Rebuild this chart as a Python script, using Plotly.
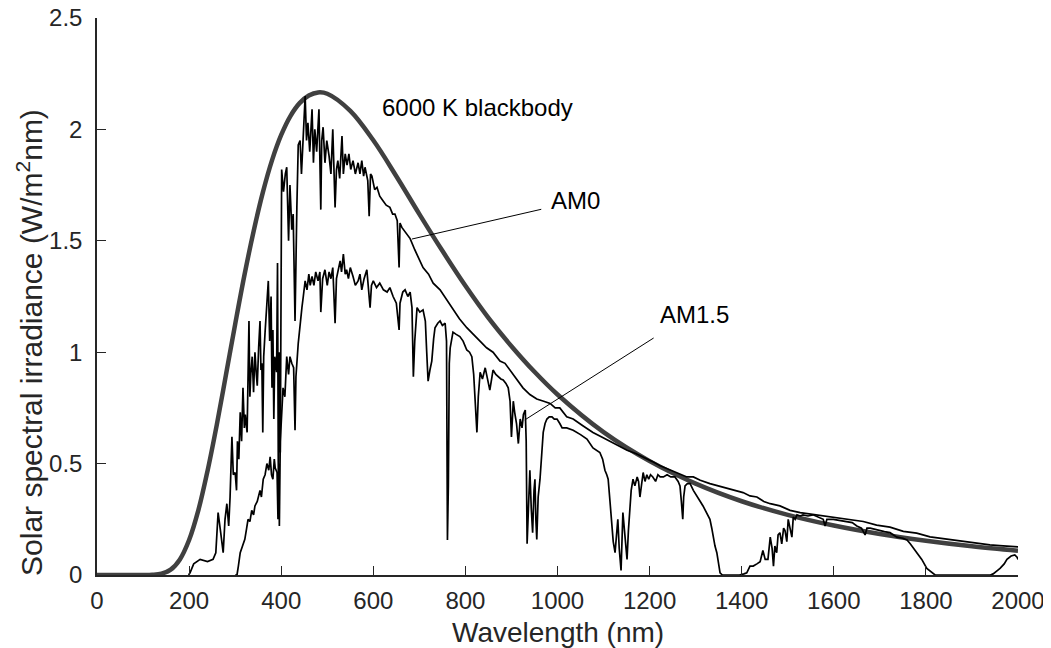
import plotly.graph_objects as go

# 6000 K blackbody (scaled)
bb_wl = [0, 50, 100, 120, 140, 160, 180, 200, 220, 240, 260, 280, 300, 320, 340,
         360, 380, 400, 420, 440, 460, 480, 500, 550, 600, 650, 700, 750, 800,
         850, 900, 950, 1000, 1100, 1200, 1300, 1400, 1500, 1600, 1700, 1800,
         1900, 2000]
bb_val = [0, 0, 0, 0.001, 0.006, 0.024, 0.070, 0.157, 0.290, 0.467, 0.673, 0.898,
          1.125, 1.344, 1.542, 1.716, 1.861, 1.975, 2.060, 2.118, 2.152, 2.166,
          2.160, 2.083, 1.951, 1.790, 1.620, 1.455, 1.298, 1.154, 1.027, 0.912,
          0.810, 0.641, 0.511, 0.410, 0.331, 0.270, 0.222, 0.184, 0.154, 0.129,
          0.109]

# AM0 spectrum
am0_wl = [199, 202, 210, 224, 240, 252, 258, 263, 268, 274, 278, 282, 286, 289, 293,
          296, 300, 303, 305, 308, 311, 314, 317, 320, 322, 326, 330, 332, 334, 337,
          340, 343, 346, 348, 351, 354, 356, 358, 360, 362, 365, 368, 372, 375, 378,
          380, 382, 384, 386, 388, 390, 392, 394, 396, 398, 401, 405,
          409, 412, 416, 419, 423, 426, 430, 432, 434, 437, 441, 444, 447, 450,
          452, 455, 458, 462, 467, 470, 473, 477, 482, 486, 488, 491, 495, 499,
          504, 508, 512, 517, 520, 523, 527, 532, 535, 539, 543, 547, 551, 556,
          561, 567, 571, 575, 579, 582, 588, 591, 594, 597, 603, 608, 614, 621,
          628, 636, 642, 647, 652, 656, 658, 662, 670, 680, 690, 701, 708, 720,
          730, 745, 758, 771, 787, 803, 818, 832, 846, 860, 875, 886, 897, 910,
          925, 940, 955, 970, 984, 995, 1005, 1020, 1034, 1055, 1077, 1095, 1114,
          1130, 1151, 1170, 1186, 1205, 1223, 1240, 1259, 1272, 1281, 1295, 1310,
          1331, 1350, 1368, 1385, 1403, 1418, 1433, 1448, 1462, 1483, 1505, 1527,
          1545, 1563, 1585, 1607, 1635, 1664, 1693, 1722, 1751, 1765, 1780, 1809,
          1830, 1852, 1875, 1896, 1920, 1939, 1960, 1983, 2000]
am0_val = [0.0, 0.01, 0.05, 0.07, 0.06, 0.07, 0.10, 0.28, 0.20, 0.10, 0.25, 0.32, 0.22,
           0.35, 0.62, 0.45, 0.46, 0.38, 0.60, 0.52, 0.73, 0.60, 0.84, 0.66, 0.72, 0.64,
           1.14, 0.80, 0.90, 0.98, 0.82, 1.00, 0.90, 0.85, 1.02, 1.14, 0.92, 0.95,
           0.64, 0.98, 1.09, 1.18, 1.32, 1.05, 1.25, 0.84, 1.10, 0.70, 0.98, 0.95,
           0.91, 1.40, 0.32, 1.00, 0.55, 1.82, 1.72, 1.80, 1.83, 1.50, 1.75, 1.55,
           1.62, 1.14, 1.50, 1.65, 1.93, 1.95, 1.80, 1.92, 2.05, 2.15, 1.95, 2.03,
           1.90, 2.09, 1.85, 2.00, 1.90, 2.09, 1.64, 1.95, 2.01, 1.85, 1.95, 1.88,
           1.80, 2.00, 1.65, 1.82, 1.86, 1.78, 1.97, 1.80, 1.89, 1.84, 1.89, 1.82,
           1.86, 1.80, 1.85, 1.80, 1.86, 1.79, 1.83, 1.77, 1.61, 1.80, 1.79, 1.73,
           1.74, 1.70, 1.68, 1.66, 1.65, 1.62, 1.62, 1.59, 1.38, 1.58, 1.56, 1.54,
           1.51, 1.46, 1.41, 1.38, 1.35, 1.31, 1.28, 1.24, 1.20, 1.15, 1.11, 1.08,
           1.05, 1.02, 1.00, 0.96, 0.95, 0.92, 0.88, 0.84, 0.81, 0.79, 0.78, 0.77,
           0.75, 0.75, 0.71, 0.70, 0.67, 0.64, 0.62, 0.60, 0.58, 0.56, 0.545, 0.53,
           0.51, 0.49, 0.475, 0.46, 0.45, 0.44, 0.44, 0.425, 0.41, 0.40, 0.39, 0.38,
           0.37, 0.355, 0.35, 0.33, 0.32, 0.31, 0.29, 0.28, 0.275, 0.27, 0.262,
           0.256, 0.25, 0.24, 0.224, 0.215, 0.196, 0.192, 0.188, 0.171, 0.165,
           0.157, 0.150, 0.144, 0.139, 0.135, 0.132, 0.130, 0.126]

# AM1.5 spectrum
am15_wl = [300, 304, 307, 311, 316, 321, 325, 328, 332, 336, 340, 343, 348, 354,
           357, 361, 365, 369, 373, 376, 379, 382, 385, 387, 391, 393, 395, 396,
           398, 401, 404, 408, 412, 416, 419, 423, 427, 430, 432, 437, 441, 445,
           448, 452, 456, 460, 463, 467, 471, 475, 480, 484, 486, 490, 495, 500,
           504, 508, 512, 517, 520, 524, 528, 531, 535, 539, 542, 546, 550, 556,
           561, 567, 571, 575, 580, 586, 589, 593, 596, 600, 607, 614, 622, 630,
           636, 643, 650, 656, 658, 664, 669, 675, 680, 684, 687, 690, 695, 701,
           708, 713, 716, 719, 723, 727, 731, 734, 740, 745, 750, 756, 759, 761,
           763, 765, 767, 773, 780, 788, 795, 803, 809, 814, 818, 821, 823, 825,
           828, 832, 837, 843, 848, 853, 857, 860, 866, 871, 877, 882, 888, 893,
           897, 900, 904, 907, 911, 915, 919, 923, 926, 930, 932, 934, 937, 940,
           943, 946, 949, 951, 953, 955, 958, 962, 966, 969, 973, 977, 982, 988,
           993, 999, 1005, 1010, 1020, 1034, 1050, 1064, 1077, 1085, 1092, 1098,
           1103, 1107, 1110, 1114, 1118, 1121, 1125, 1128, 1131, 1134, 1138, 1142,
           1146, 1151, 1154, 1157, 1160, 1164, 1168, 1173, 1176, 1179, 1183, 1186,
           1190, 1194, 1198, 1202, 1207, 1213, 1218, 1223, 1230, 1238, 1246, 1255,
           1262, 1266, 1269, 1272, 1274, 1277, 1282, 1288, 1295, 1303, 1310, 1316,
           1323, 1331, 1335, 1338, 1342, 1346, 1350, 1353, 1358, 1395, 1405, 1411,
           1418, 1425, 1433, 1440, 1446, 1451, 1457, 1462, 1466, 1469, 1472, 1476,
           1479, 1483, 1487, 1491, 1494, 1498, 1501, 1505, 1509, 1512, 1516, 1520,
           1527, 1533, 1544, 1555, 1566, 1577, 1581, 1585, 1599, 1614, 1628, 1640,
           1650, 1660, 1668, 1672, 1679, 1696, 1710, 1722, 1737, 1750, 1759, 1766,
           1773, 1780, 1791, 1802, 1813, 1820, 1940, 1946, 1955, 1961, 1970, 1976,
           1985, 1993, 1998, 2000]
am15_val = [0.0, 0.0, 0.04, 0.10, 0.13, 0.16, 0.21, 0.25, 0.24, 0.29, 0.27, 0.31,
            0.33, 0.38, 0.35, 0.43, 0.45, 0.50, 0.47, 0.53, 0.45, 0.43, 0.52, 0.48,
            0.46, 0.25, 0.50, 0.22, 0.60, 0.72, 0.84, 0.80, 0.98, 0.90, 0.98, 0.95,
            0.93, 0.65, 0.89, 1.04, 1.13, 1.20, 1.25, 1.32, 1.28, 1.35, 1.30, 1.34,
            1.30, 1.36, 1.32, 1.36, 1.18, 1.33, 1.37, 1.30, 1.36, 1.33, 1.38, 1.13,
            1.33, 1.38, 1.41, 1.36, 1.44, 1.35, 1.37, 1.33, 1.38, 1.34, 1.30, 1.32,
            1.35, 1.28, 1.33, 1.37, 1.30, 1.20, 1.30, 1.32, 1.29, 1.31, 1.28, 1.27,
            1.29, 1.25, 1.22, 1.10, 1.22, 1.27, 1.28, 1.25, 1.27, 1.20, 0.89, 1.05,
            1.20, 1.18, 1.19, 1.14, 1.00, 0.87, 0.92, 0.96, 1.06, 1.11, 1.13, 1.14,
            1.12, 1.13, 1.05, 0.157, 0.40, 0.95, 1.02, 1.09, 1.08, 1.07, 1.05, 1.01,
            1.00, 0.98, 0.90, 0.80, 0.70, 0.64, 0.80, 0.91, 0.88, 0.93, 0.88, 0.83,
            0.88, 0.92, 0.90, 0.89, 0.88, 0.875, 0.86, 0.84, 0.78, 0.62, 0.78, 0.73,
            0.68, 0.59, 0.70, 0.66, 0.72, 0.74, 0.60, 0.14, 0.35, 0.47, 0.30, 0.19,
            0.38, 0.43, 0.25, 0.16, 0.35, 0.43, 0.55, 0.64, 0.68, 0.70, 0.71, 0.71,
            0.70, 0.70, 0.68, 0.66, 0.66, 0.65, 0.63, 0.61, 0.57, 0.56, 0.55, 0.52,
            0.47, 0.45, 0.43, 0.33, 0.22, 0.15, 0.10, 0.18, 0.25, 0.12, 0.02, 0.28,
            0.20, 0.07, 0.20, 0.31, 0.38, 0.43, 0.40, 0.44, 0.42, 0.35, 0.42, 0.46,
            0.42, 0.45, 0.43, 0.45, 0.44, 0.42, 0.45, 0.44, 0.44, 0.45, 0.44, 0.44,
            0.42, 0.40, 0.33, 0.25, 0.35, 0.40, 0.41, 0.41, 0.38, 0.35, 0.33, 0.31,
            0.28, 0.25, 0.21, 0.17, 0.13, 0.10, 0.05, 0.01, 0.0, 0.0, 0.005, 0.01,
            0.04, 0.04, 0.05, 0.06, 0.11, 0.07, 0.07, 0.17, 0.12, 0.04, 0.13, 0.10,
            0.18, 0.19, 0.14, 0.21, 0.20, 0.15, 0.25, 0.20, 0.17, 0.26, 0.25, 0.27,
            0.265, 0.27, 0.265, 0.27, 0.26, 0.25, 0.22, 0.25, 0.25, 0.245, 0.24,
            0.235, 0.22, 0.21, 0.18, 0.21, 0.21, 0.20, 0.195, 0.19, 0.17, 0.165,
            0.157, 0.14, 0.12, 0.10, 0.07, 0.03, 0.01, 0.0, 0.0, 0.005, 0.02, 0.03,
            0.05, 0.07, 0.085, 0.09, 0.08, 0.07]

x_ticks = [0, 200, 400, 600, 800, 1000, 1200, 1400, 1600, 1800, 2000]
y_ticks = [0, 0.5, 1, 1.5, 2, 2.5]

AXIS_COLOR = "#262626"
FONT = "Liberation Sans, Arial, sans-serif"

fig = go.Figure()
fig.add_trace(go.Scatter(x=bb_wl, y=bb_val, mode="lines", line_shape="spline",
                         line=dict(color="#404040", width=4.5), name="6000 K blackbody"))
fig.add_trace(go.Scatter(x=am0_wl, y=am0_val, mode="lines",
                         line=dict(color="black", width=1.7), name="AM0"))
fig.add_trace(go.Scatter(x=am15_wl, y=am15_val, mode="lines",
                         line=dict(color="black", width=1.7), name="AM1.5"))

axis_common = dict(
    showgrid=False, zeroline=False, showline=True, linecolor=AXIS_COLOR,
    linewidth=1.5, ticks="inside", ticklen=9, tickwidth=1.3, tickcolor=AXIS_COLOR,
    tickfont=dict(family=FONT, size=24, color=AXIS_COLOR), mirror=False,
    automargin=False, ticklabeloverflow="allow",
)
fig.update_xaxes(range=[0, 2000], tickvals=x_ticks, ticklabelstandoff=3, **axis_common)
fig.update_yaxes(range=[0, 2.5], tickvals=y_ticks, ticklabelstandoff=8, **axis_common)

label_font = dict(family=FONT, size=24, color="black")
# the page body adds an 8 px offset, so the figure is sized to fit inside it
fig.update_layout(
    width=1043, height=640,
    margin=dict(l=89, r=33, t=10, b=73),
    plot_bgcolor="white", paper_bgcolor="white",
    showlegend=False,
    annotations=[
        dict(text="Wavelength (nm)", x=0.5, y=-0.104, xref="paper", yref="paper",
             showarrow=False, font=dict(family=FONT, size=28, color=AXIS_COLOR),
             xanchor="center", yanchor="middle"),
        dict(text="Solar spectral irradiance (W/m<sup>2</sup>nm)", x=-0.073, y=0.418,
             xref="paper", yref="paper", textangle=-90, showarrow=False,
             font=dict(family=FONT, size=30, color=AXIS_COLOR),
             xanchor="center", yanchor="middle"),
        dict(text="6000 K blackbody", x=827, y=2.10, xref="x", yref="y",
             showarrow=False, font=label_font, xanchor="center", yanchor="middle"),
        dict(text="AM0", x=1040, y=1.68, xref="x", yref="y",
             showarrow=False, font=label_font, xanchor="center", yanchor="middle"),
        dict(text="AM1.5", x=1298, y=1.167, xref="x", yref="y",
             showarrow=False, font=label_font, xanchor="center", yanchor="middle"),
        # leader lines
        dict(x=684, y=1.508, ax=968, ay=1.643, xref="x", yref="y", axref="x", ayref="y",
             text="", showarrow=True, arrowhead=0, arrowwidth=1, arrowcolor="black",
             standoff=0, startstandoff=0),
        dict(x=929, y=0.696, ax=1212, ay=1.068, xref="x", yref="y", axref="x", ayref="y",
             text="", showarrow=True, arrowhead=0, arrowwidth=1, arrowcolor="black",
             standoff=0, startstandoff=0),
    ],
)

fig.write_html("out.html")
